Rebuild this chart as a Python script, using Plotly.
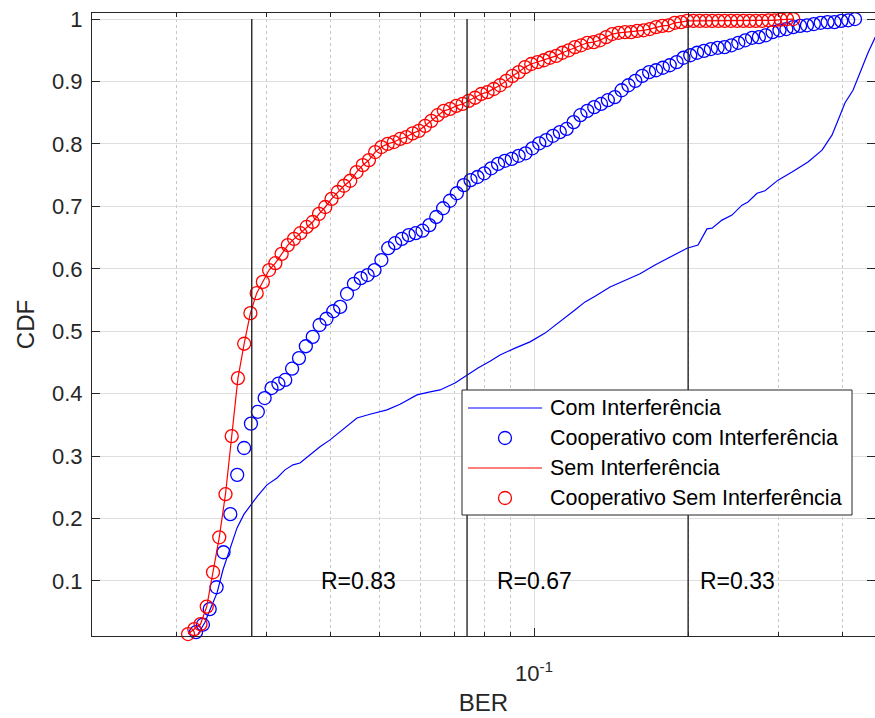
import math
import plotly.graph_objects as go

# ---------------------------------------------------------------------------
# Data: CDF of the bit error rate (BER)
# ---------------------------------------------------------------------------

# "Com Interferência" (solid blue line)
ber_com = [0.02207, 0.02277, 0.02329, 0.02404, 0.02469, 0.02548, 0.0263, 0.02714, 0.02788, 0.02878,
           0.03009, 0.03148, 0.03263, 0.03383, 0.03491, 0.03652, 0.03819, 0.03996, 0.04179, 0.04371,
           0.04511, 0.04782, 0.05163, 0.05474, 0.05909, 0.06265, 0.06553, 0.0701, 0.07398, 0.07773,
           0.08205, 0.08582, 0.09182, 0.09822, 0.1051, 0.1124, 0.1202, 0.1258, 0.1316, 0.1408,
           0.1506, 0.1611, 0.1723, 0.1843, 0.1990, 0.2091, 0.2177, 0.2227, 0.2329, 0.2436,
           0.2548, 0.2618, 0.2726, 0.2826, 0.2996, 0.3191, 0.3429, 0.3652, 0.3819, 0.3925,
           0.4050, 0.4198, 0.4371, 0.4491, 0.4634, 0.4783, 0.4900]
cdf_com = [0.015, 0.034, 0.054, 0.081, 0.118, 0.150, 0.185, 0.207, 0.220, 0.235,
           0.254, 0.265, 0.278, 0.286, 0.289, 0.302, 0.315, 0.326, 0.339, 0.351,
           0.361, 0.367, 0.374, 0.383, 0.398, 0.403, 0.406, 0.417, 0.430, 0.441,
           0.452, 0.462, 0.473, 0.483, 0.497, 0.515, 0.534, 0.547, 0.556, 0.571,
           0.582, 0.592, 0.606, 0.619, 0.633, 0.638, 0.664, 0.665, 0.678, 0.686,
           0.702, 0.707, 0.721, 0.725, 0.742, 0.755, 0.771, 0.790, 0.814, 0.838,
           0.866, 0.886, 0.923, 0.946, 0.970, 0.991, 1.0]

# "Cooperativo com Interferência" (blue circles)
ber_coop_com = [0.02187, 0.02256, 0.02326, 0.02399, 0.02475, 0.02552, 0.02632, 0.02715, 0.02800, 0.02888,
                0.02978, 0.03071, 0.03168, 0.03267, 0.03369, 0.03475, 0.03584, 0.03697, 0.03812, 0.03932,
                0.04055, 0.04182, 0.04313, 0.04449, 0.04588, 0.04732, 0.04881, 0.05034, 0.05191, 0.05354,
                0.05521, 0.05694, 0.05873, 0.06057, 0.06247, 0.06443, 0.06645, 0.06853, 0.07068, 0.07290,
                0.07518, 0.07754, 0.07997, 0.08248, 0.08506, 0.08773, 0.09048, 0.09332, 0.09625, 0.09927,
                0.1024, 0.1056, 0.1089, 0.1123, 0.1158, 0.1195, 0.1232, 0.1271, 0.1311, 0.1352,
                0.1394, 0.1438, 0.1483, 0.1529, 0.1577, 0.1627, 0.1678, 0.1731, 0.1785, 0.1841,
                0.1899, 0.1958, 0.2019, 0.2082, 0.2148, 0.2215, 0.2284, 0.2356, 0.2430, 0.2506,
                0.2585, 0.2666, 0.2749, 0.2836, 0.2924, 0.3016, 0.3111, 0.3208, 0.3309, 0.3413,
                0.3520, 0.3630, 0.3744, 0.3861, 0.3982, 0.4107, 0.4236]
cdf_coop_com = [0.018, 0.030, 0.055, 0.090, 0.146, 0.207, 0.270, 0.313, 0.352, 0.371,
                0.393, 0.409, 0.416, 0.422, 0.440, 0.457, 0.476, 0.491, 0.510, 0.520,
                0.532, 0.539, 0.560, 0.576, 0.585, 0.590, 0.598, 0.614, 0.633, 0.641,
                0.648, 0.654, 0.657, 0.661, 0.670, 0.683, 0.697, 0.709, 0.721, 0.734,
                0.742, 0.747, 0.753, 0.761, 0.768, 0.773, 0.776, 0.781, 0.785, 0.793,
                0.801, 0.806, 0.813, 0.819, 0.824, 0.835, 0.846, 0.853, 0.859, 0.864,
                0.870, 0.875, 0.886, 0.894, 0.901, 0.909, 0.915, 0.918, 0.922, 0.926,
                0.931, 0.938, 0.942, 0.946, 0.949, 0.952, 0.954, 0.955, 0.958, 0.962,
                0.966, 0.970, 0.971, 0.974, 0.979, 0.982, 0.984, 0.987, 0.989, 0.990,
                0.992, 0.994, 0.995, 0.995, 0.997, 0.998, 1.0]

# "Sem Interferência" (red line) / "Cooperativo Sem Interferência" (red circles)
ber_sem = [0.02110, 0.02170, 0.02232, 0.02295, 0.02361, 0.02428, 0.02497, 0.02568, 0.02641, 0.02716,
           0.02793, 0.02873, 0.02954, 0.03038, 0.03125, 0.03214, 0.03305, 0.03399, 0.03496, 0.03596,
           0.03698, 0.03803, 0.03911, 0.04023, 0.04137, 0.04255, 0.04376, 0.04501, 0.04629, 0.04760,
           0.04895, 0.05034, 0.05178, 0.05325, 0.05477, 0.05632, 0.05793, 0.05958, 0.06127, 0.06302,
           0.06482, 0.06666, 0.06856, 0.07051, 0.07252, 0.07458, 0.07671, 0.07889, 0.08114, 0.08344,
           0.08583, 0.08827, 0.09079, 0.09337, 0.09603, 0.09876, 0.1016, 0.1045, 0.1074, 0.1105,
           0.1136, 0.1169, 0.1202, 0.1236, 0.1271, 0.1308, 0.1345, 0.1383, 0.1422, 0.1463,
           0.1505, 0.1547, 0.1591, 0.1637, 0.1683, 0.1731, 0.1780, 0.1831, 0.1883, 0.1937,
           0.1992, 0.2048, 0.2107, 0.2167, 0.2228, 0.2292, 0.2357, 0.2424, 0.2493, 0.2564,
           0.2637, 0.2712, 0.2789, 0.2869, 0.2950, 0.3034, 0.3121, 0.3209]
cdf_sem = [0.015, 0.023, 0.031, 0.059, 0.114, 0.170, 0.239, 0.332, 0.425, 0.480,
           0.529, 0.561, 0.579, 0.598, 0.609, 0.624, 0.638, 0.648, 0.657, 0.667,
           0.675, 0.688, 0.699, 0.712, 0.723, 0.733, 0.741, 0.755, 0.766, 0.774,
           0.787, 0.795, 0.800, 0.803, 0.808, 0.811, 0.817, 0.821, 0.829, 0.837,
           0.846, 0.853, 0.856, 0.861, 0.864, 0.869, 0.874, 0.880, 0.883, 0.888,
           0.894, 0.901, 0.909, 0.915, 0.923, 0.928, 0.931, 0.934, 0.938, 0.941,
           0.946, 0.950, 0.955, 0.958, 0.962, 0.963, 0.966, 0.971, 0.976, 0.978,
           0.979, 0.979, 0.981, 0.982, 0.984, 0.987, 0.989, 0.990, 0.994, 0.995,
           0.997, 0.997, 0.997, 0.997, 0.997, 0.997, 0.997, 0.997, 0.997, 0.997,
           0.997, 0.997, 0.997, 0.998, 0.998, 0.999, 1.0, 1.0]

# BER thresholds separating the code-rate regions, and their labels
rate_bounds = [0.0281, 0.074, 0.2]
rate_labels = ["R=0.83", "R=0.67", "R=0.33"]
rate_label_x = [0.0380, 0.0839, 0.2091]
rate_label_y = 0.1

legend_names = ["Com Interferência", "Cooperativo com Interferência",
                "Sem Interferência", "Cooperativo Sem Interferência"]

y_ticks = [0.1, 0.2, 0.3, 0.4, 0.5, 0.6, 0.7, 0.8, 0.9, 1.0]
y_ticktext = ["0.1", "0.2", "0.3", "0.4", "0.5", "0.6", "0.7", "0.8", "0.9", "1"]
x_minor = [0.02, 0.03, 0.04, 0.05, 0.06, 0.07, 0.08, 0.09, 0.2, 0.3, 0.4]

# ---------------------------------------------------------------------------
# Styling
# ---------------------------------------------------------------------------
FONT = "Liberation Sans, Arial, Helvetica, sans-serif"
AX = "#262626"
BLUE = "#0000ff"
RED = "#ff0000"
W, H = 875, 718
L, R, T, B = 92, 875, 13, 636   # plot-area edges in page pixels


def fx(p):
    return (p - L) / (R - L)


def fy(p):
    return (B - p) / (B - T)


fig = go.Figure()

fig.add_trace(go.Scatter(x=ber_com, y=cdf_com, mode="lines", name=legend_names[0],
                         line=dict(color=BLUE, width=1.2), showlegend=False))
fig.add_trace(go.Scatter(x=ber_coop_com, y=cdf_coop_com, mode="markers", name=legend_names[1],
                         marker=dict(symbol="circle-open", size=13, color=BLUE,
                                     line=dict(width=1.3, color=BLUE)),
                         cliponaxis=False, showlegend=False))
fig.add_trace(go.Scatter(x=ber_sem, y=cdf_sem, mode="lines", name=legend_names[2],
                         line=dict(color=RED, width=1.2), showlegend=False))
fig.add_trace(go.Scatter(x=ber_sem, y=cdf_sem, mode="markers", name=legend_names[3],
                         marker=dict(symbol="circle-open", size=13, color=RED,
                                     line=dict(width=1.3, color=RED)),
                         cliponaxis=False, showlegend=False))

for b in rate_bounds:
    fig.add_trace(go.Scatter(x=[b, b], y=[0, 1], mode="lines",
                             line=dict(color=AX, width=1.4),
                             hoverinfo="skip", showlegend=False))

for lbl, xv in zip(rate_labels, rate_label_x):
    fig.add_annotation(x=math.log10(xv), y=rate_label_y, xref="x", yref="y",
                       text=lbl, showarrow=False, xanchor="left", yanchor="middle",
                       font=dict(family=FONT, size=23, color="#000000"))

# Legend box drawn by hand to keep MATLAB-like sample lengths
shapes = [dict(type="rect", xref="paper", yref="paper",
               x0=fx(462), x1=fx(852), y0=fy(515), y1=fy(390),
               line=dict(color=AX, width=1), fillcolor="white", layer="above")]
row_y = [408, 438, 468, 498]
colors = [BLUE, BLUE, RED, RED]
for i, (name, col, ry) in enumerate(zip(legend_names, colors, row_y)):
    if i % 2 == 0:
        shapes.append(dict(type="line", xref="paper", yref="paper",
                           x0=fx(468), x1=fx(542), y0=fy(ry), y1=fy(ry),
                           line=dict(color=col, width=1.2), layer="above"))
    else:
        shapes.append(dict(type="circle", xref="paper", yref="paper",
                           xsizemode="pixel", ysizemode="pixel",
                           xanchor=fx(505), yanchor=fy(ry),
                           x0=-6.5, x1=6.5, y0=-6.5, y1=6.5,
                           line=dict(color=col, width=1.3), layer="above"))
    fig.add_annotation(x=fx(548), y=fy(ry), xref="paper", yref="paper",
                       text=name, showarrow=False, xanchor="left", yanchor="middle",
                       font=dict(family=FONT, size=21.5, color="#000000"))

fig.update_layout(
    width=W, height=H,
    margin=dict(l=L, r=W - R, t=T, b=H - B, autoexpand=False),
    paper_bgcolor="white", plot_bgcolor="white",
    font=dict(family=FONT, size=22, color=AX),
    shapes=shapes,
    xaxis=dict(
        type="log",
        range=[-1.8633, -0.334],
        tickmode="array", tickvals=[0.1], ticktext=["10<sup>-1</sup>"],
        ticks="inside", ticklen=8, tickwidth=1, tickcolor=AX,
        showline=True, linecolor=AX, linewidth=1, mirror="ticks",
        showgrid=True, gridcolor="#dedede", gridwidth=1,
        zeroline=False,
        ticklabelstandoff=18,
        tickfont=dict(family=FONT, size=22, color=AX),
        minor=dict(tickmode="array", tickvals=x_minor, ticks="inside", ticklen=4,
                   tickcolor=AX, showgrid=True, gridcolor="#c6c6c6",
                   griddash="dot", gridwidth=1),
        title=dict(text="BER", font=dict(family=FONT, size=24, color=AX), standoff=8),
        automargin=False,
    ),
    yaxis=dict(
        range=[0.0119, 1.0097],
        tickmode="array", tickvals=y_ticks, ticktext=y_ticktext,
        ticks="inside", ticklen=8, tickwidth=1, tickcolor=AX,
        showline=True, linecolor=AX, linewidth=1, mirror="ticks",
        showgrid=True, gridcolor="#dedede", gridwidth=1,
        zeroline=False,
        ticklabelstandoff=4,
        tickfont=dict(family=FONT, size=22, color=AX),
        title=dict(text="CDF", font=dict(family=FONT, size=24, color=AX), standoff=10),
        automargin=False,
    ),
)

fig.write_html("out.html")
